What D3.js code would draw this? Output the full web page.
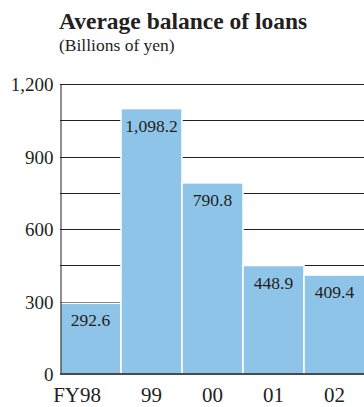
<!DOCTYPE html>
<html>
<head>
<meta charset="utf-8">
<script src="https://cdn.jsdelivr.net/npm/d3@7"></script>
<style>
  html, body { margin: 0; padding: 0; background: #fff; }
  svg { display: block; }
  text { font-family: "Liberation Serif", "DejaVu Serif", serif; fill: #231f20; }
</style>
</head>
<body>
<svg id="chart" width="364" height="407"></svg>
<script>
// Average balance of loans, billions of yen
const categories = ["FY98", "99", "00", "01", "02"];
const values = [292.6, 1098.2, 790.8, 448.9, 409.4];
const valueLabels = ["292.6", "1,098.2", "790.8", "448.9", "409.4"];
const tickValues = [0, 300, 600, 900, 1200];
const gridValues = [150, 300, 450, 600, 750, 900, 1050, 1200];

const svg = d3.select("#chart");
const margin = { left: 60, top: 84, right: -1, bottom: 33 };
const W = 364, H = 407;
const x0 = margin.left, x1 = W - margin.right;
const yTop = margin.top, yBot = H - margin.bottom;

const x = d3.scaleBand().domain(categories).range([x0, x1]).padding(0);
const y = d3.scaleLinear().domain([0, 1200]).range([yBot, yTop]);

// Title
svg.append("text").attr("x", 59).attr("y", 29)
  .style("font-size", "23.5px").style("font-weight", "bold")
  .text("Average balance of loans");
svg.append("text").attr("x", 59).attr("y", 51)
  .style("font-size", "17.5px")
  .text("(Billions of yen)");

// Horizontal grid lines
svg.append("g").selectAll("line").data(gridValues).join("line")
  .attr("x1", x0).attr("x2", W)
  .attr("y1", d => Math.round(y(d)) + 0.5).attr("y2", d => Math.round(y(d)) + 0.5)
  .attr("stroke", "#231f20").attr("stroke-width", 1);

// Bars
svg.append("g").selectAll("rect").data(values).join("rect")
  .attr("x", (d, i) => x(categories[i]))
  .attr("width", x.bandwidth())
  .attr("y", d => y(d))
  .attr("height", d => yBot - y(d))
  .attr("fill", "#8fc4e9")
  .attr("stroke", "#ffffff").attr("stroke-width", 1.5);

// Value labels
svg.append("g").selectAll("text").data(values).join("text")
  .attr("x", (d, i) => x(categories[i]) + x.bandwidth() / 2)
  .attr("y", d => y(d) + 23)
  .attr("text-anchor", "middle")
  .style("font-size", "17.5px")
  .text((d, i) => valueLabels[i]);

// Left axis
const yAxis = d3.axisLeft(y).tickValues(tickValues).tickSize(0).tickPadding(7)
  .tickFormat(d3.format(","));
const gy = svg.append("g").attr("transform", `translate(${x0 + 0.5},0)`).call(yAxis);
gy.select(".domain").attr("stroke", "#231f20");
gy.selectAll("text").style("font-size", "19px").attr("font-family", null).attr("fill", null)
  .attr("dy", "0.35em");

// Baseline
svg.append("line").attr("x1", x0).attr("x2", W)
  .attr("y1", yBot).attr("y2", yBot)
  .attr("stroke", "#4a4a4a").attr("stroke-width", 2);

// Category axis: the year digits sit centred under each bar, "FY" hangs to the left
const gx = svg.append("g");
gx.selectAll("text").data(categories).join("text")
  .attr("y", yBot + 28)
  .attr("text-anchor", "end")
  .style("font-size", "21px")
  .text(d => d)
  .each(function (d) {
    const digits = d.replace(/^FY/, "");
    const probe = gx.append("text").style("font-size", "21px").text(digits);
    const w = probe.node().getComputedTextLength();
    probe.remove();
    d3.select(this).attr("x", x(d) + x.bandwidth() / 2 + w / 2);
  });
</script>
</body>
</html>
